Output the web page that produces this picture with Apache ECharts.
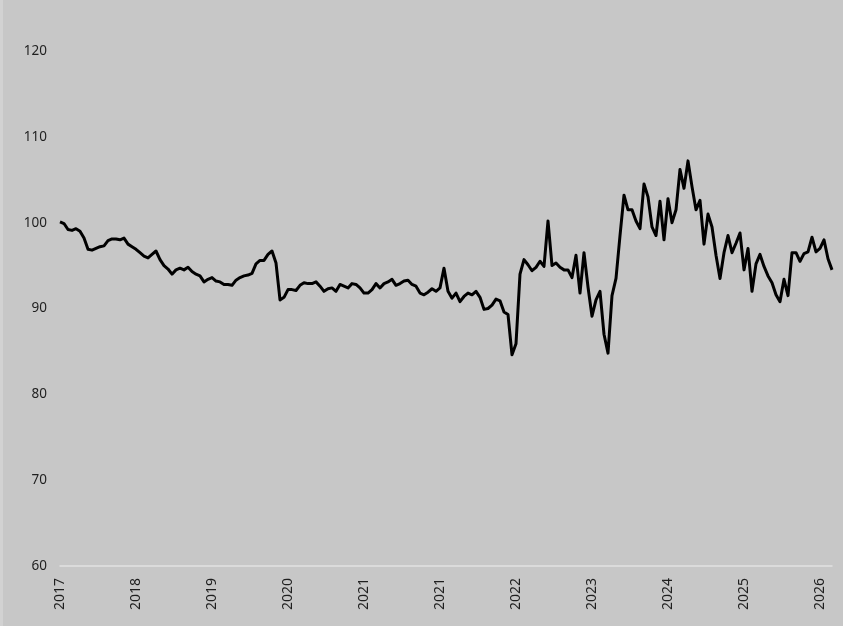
<!DOCTYPE html>
<html>
<head>
<meta charset="utf-8">
<script src="https://cdn.jsdelivr.net/npm/echarts@6/dist/echarts.min.js"></script>
<style>
html,body{margin:0;padding:0;background:#c7c7c7;}
#chart{width:843px;height:626px;}
</style>
</head>
<body>
<div id="chart"></div>
<script>
// Index values (one sample per equal step in time)
const values = [
100.1, 99.9, 99.2, 99.1, 99.3, 99.0, 98.2, 96.9, 96.8, 97.0,
97.2, 97.3, 97.9, 98.1, 98.1, 98.0, 98.2, 97.5, 97.2, 96.9,
96.5, 96.1, 95.9, 96.3, 96.7, 95.7, 95.0, 94.6, 94.0, 94.5,
94.7, 94.5, 94.8, 94.3, 94.0, 93.8, 93.1, 93.4, 93.6, 93.2,
93.1, 92.8, 92.8, 92.7, 93.3, 93.6, 93.8, 93.9, 94.1, 95.2,
95.6, 95.6, 96.3, 96.7, 95.3, 91.0, 91.3, 92.2, 92.2, 92.1,
92.7, 93.0, 92.9, 92.9, 93.1, 92.6, 92.0, 92.3, 92.4, 92.0,
92.8, 92.6, 92.4, 92.9, 92.8, 92.4, 91.8, 91.8, 92.2, 92.9,
92.4, 92.9, 93.1, 93.4, 92.7, 92.9, 93.2, 93.3, 92.8, 92.6,
91.8, 91.6, 91.9, 92.3, 92.0, 92.4, 94.7, 92.0, 91.2, 91.8,
90.8, 91.4, 91.8, 91.6, 92.0, 91.3, 89.9, 90.0, 90.4, 91.1,
90.9, 89.6, 89.3, 84.6, 85.9, 94.0, 95.7, 95.1, 94.4, 94.8,
95.5, 94.9, 100.2, 95.0, 95.3, 94.8, 94.5, 94.5, 93.6, 96.2,
91.8, 96.5, 92.5, 89.1, 91.0, 92.0, 87.0, 84.8, 91.5, 93.5,
98.5, 103.2, 101.5, 101.5, 100.2, 99.3, 104.5, 103.0, 99.5, 98.5,
102.5, 98.0, 102.8, 100.0, 101.5, 106.2, 104.0, 107.2, 104.2, 101.5,
102.6, 97.5, 101.0, 99.5, 96.2, 93.5, 96.5, 98.5, 96.5, 97.6,
98.8, 94.5, 97.0, 92.0, 95.2, 96.3, 94.9, 93.8, 93.0, 91.6,
90.8, 93.4, 91.5, 96.5, 96.5, 95.5, 96.4, 96.6, 98.3, 96.6,
97.0, 98.0, 95.8, 94.5
];
// Axis tick labels as printed in the reference, one every `labelStep` samples
const tickLabels = ['2017','2018','2019','2020','2021','2021','2022','2023','2024','2025','2026'];
const labelStep = 19;
const yTicks = [60, 70, 80, 90, 100, 110, 120];

const categories = values.map((_, i) => 'p' + i);

const chart = echarts.init(document.getElementById('chart'), null, {renderer: 'canvas'});
chart.setOption({
  backgroundColor: '#c7c7c7',
  animation: false,
  graphic: [{
    type: 'rect', left: 0, top: 0,
    shape: {width: 3, height: 626},
    style: {fill: '#d2d2d2'}, silent: true
  }],
  grid: {left: 60, right: 11, top: 51, bottom: 60, containLabel: false},
  xAxis: {
    type: 'category',
    data: categories,
    boundaryGap: false,
    axisLine: {show: true, lineStyle: {color: '#e2e2e2', width: 1.5}},
    axisTick: {show: false},
    splitLine: {show: false},
    axisLabel: {
      rotate: 90,
      margin: 12,
      interval: (index) => index % labelStep === 0 && index / labelStep < tickLabels.length,
      formatter: (value, index) => tickLabels[Math.round(index / labelStep)] || '',
      color: '#1f1f1f',
      fontFamily: 'Noto Sans',
      fontSize: 14
    }
  },
  yAxis: {
    type: 'value',
    min: yTicks[0],
    max: yTicks[yTicks.length - 1],
    interval: 10,
    axisLine: {show: false},
    axisTick: {show: false},
    splitLine: {show: false},
    axisLabel: {
      margin: 13,
      color: '#1f1f1f',
      fontFamily: 'Noto Sans',
      fontSize: 13.5
    }
  },
  series: [{
    type: 'line',
    data: values,
    showSymbol: false,
    symbol: 'none',
    lineStyle: {color: '#000000', width: 3, join: 'round'},
    z: 3
  }]
});
</script>
</body>
</html>
